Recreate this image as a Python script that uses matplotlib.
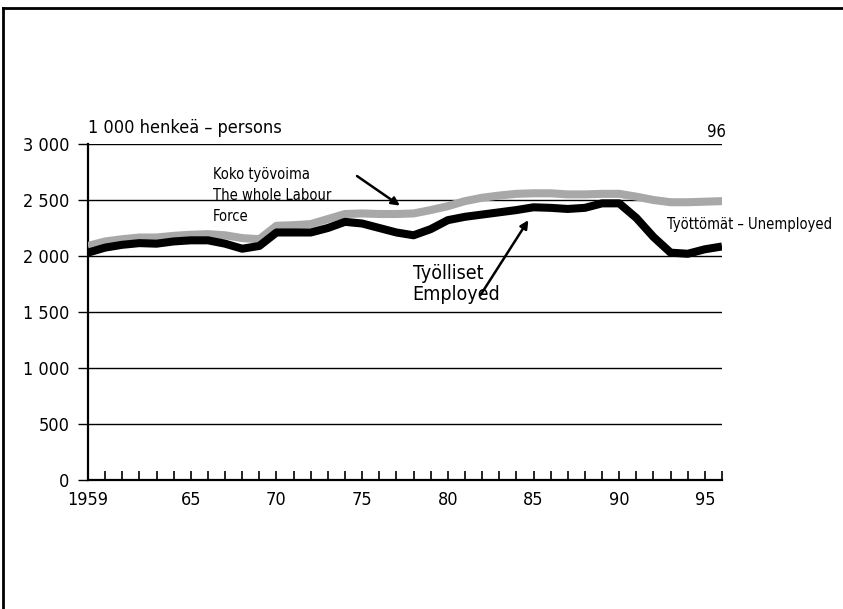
import matplotlib
matplotlib.use("Agg")
import matplotlib.pyplot as plt
from matplotlib.lines import Line2D

plt.rcParams['font.family'] = ['DejaVu Sans']
plt.rcParams['font.stretch'] = 'condensed'

# data, 1000 persons
years = list(range(1959, 1997))
employed = [2030, 2075, 2100, 2115, 2110, 2130, 2140, 2140, 2110, 2065,
            2090, 2210, 2210, 2210, 2250, 2305, 2290, 2250, 2210, 2185,
            2240, 2320, 2350, 2370, 2390, 2410, 2435, 2430, 2420, 2430,
            2470, 2470, 2340, 2170, 2030, 2020, 2060, 2085]
labour_force = [2090, 2130, 2150, 2165, 2165, 2180, 2190, 2195, 2185, 2160,
                2150, 2270, 2275, 2285, 2330, 2375, 2380, 2375, 2375, 2380,
                2410, 2445, 2490, 2520, 2540, 2555, 2560, 2560, 2550, 2550,
                2555, 2555, 2530, 2500, 2480, 2480, 2485, 2490]
yticks = [0, 500, 1000, 1500, 2000, 2500, 3000]
ytick_labels = ['0', '500', '1 000', '1 500', '2 000', '2 500', '3 000']
xlabels = {1959: '1959', 1965: '65', 1970: '70', 1975: '75',
           1980: '80', 1985: '85', 1990: '90', 1995: '95'}

fig = plt.figure(figsize=(8.43, 6.09), dpi=100)
ax = fig.add_axes([88/843, 1 - 480/609, 634/843, 336/609])

ax.plot(years, labour_force, color='#a8a8a8', lw=5.8, solid_capstyle='butt',
        solid_joinstyle='round', zorder=3)
ax.plot(years, employed, color='black', lw=5.8, solid_capstyle='butt',
        solid_joinstyle='round', zorder=4)

ax.set_xlim(1959, 1996)
ax.set_ylim(0, 3000)

# axes look
for s in ['top', 'right']:
    ax.spines[s].set_visible(False)
ax.spines['left'].set_linewidth(1.6)
ax.spines['bottom'].set_linewidth(1.6)
ax.set_yticks(yticks)
ax.set_yticklabels(ytick_labels, fontsize=13)
ax.yaxis.grid(True, color='black', lw=1.0)
ax.tick_params(axis='y', direction='out', length=7.5, width=1.0, pad=6)
ax.set_xticks(years)
ax.set_xticklabels([xlabels.get(y, '') for y in years], fontsize=13)
ax.tick_params(axis='x', direction='in', length=6.5, width=1.2, pad=8)
ax.set_axisbelow(True)

# texts
ax.text(1959, 3143, '1 000 henkeä – persons', fontsize=13, ha='left', va='center')
ax.text(1995.7, 3107, '96', fontsize=12, ha='center', va='center')
ax.text(1966.3, 2540, 'Koko työvoima\nThe whole Labour\nForce', fontsize=10.5,
        ha='left', va='center', linespacing=1.5, zorder=5)
ax.text(1992.8, 2277, 'Työttömät – Unemployed', fontsize=10.5, ha='left', va='center')
ax.text(1977.95, 1750, 'Työlliset\nEmployed', fontsize=14, ha='left', va='center',
        linespacing=1.15, zorder=5)

ax.annotate('', xy=(1977.2, 2450), xytext=(1974.7, 2714),
            arrowprops=dict(arrowstyle='-|>', color='black', lw=1.8,
                            mutation_scale=12, shrinkA=0, shrinkB=0), zorder=6)
ax.annotate('', xy=(1984.7, 2320), xytext=(1981.9, 1650),
            arrowprops=dict(arrowstyle='-|>', color='black', lw=1.8,
                            mutation_scale=12, shrinkA=0, shrinkB=0), zorder=6)

# page frame
fig.add_artist(Line2D([3/843, 1], [1 - 8/609, 1 - 8/609], color='black', lw=2))
fig.add_artist(Line2D([3/843, 3/843], [0, 1 - 8/609], color='black', lw=2))

fig.savefig('out.png', dpi=100)
